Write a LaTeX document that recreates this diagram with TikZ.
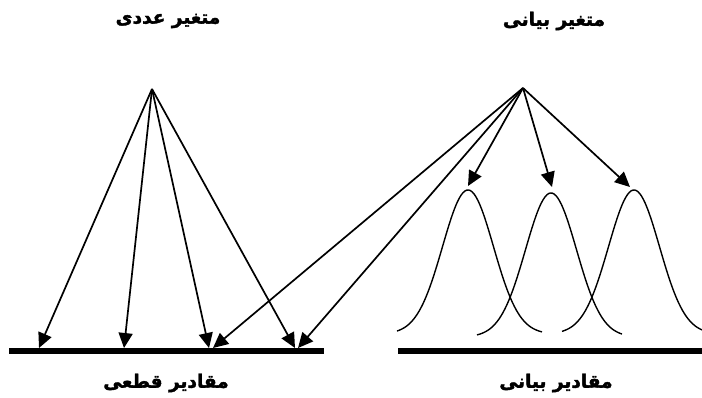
\documentclass[tikz,border=0pt]{standalone}
\usepackage{fontspec}
\newfontfamily\fafont[Script=Arabic, FakeBold=2]{DejaVu Sans Bold}
\TeXXeTstate=1
\usetikzlibrary{arrows.meta}
\begin{document}
\begin{tikzpicture}[x=1pt,y=-1pt,
  lbl/.style={font=\fafont\fontsize{18.5}{20}\selectfont, inner sep=0pt},
  arr/.style={line width=1.7pt,-{Triangle[length=15pt,width=14pt]}},
  bar/.style={line width=6.5pt},
  bell/.style={line width=1.4pt}]
\useasboundingbox (0,0) rectangle (702,397);
% labels
\node[lbl] (numvar) at (168,21) {\beginR متغیر عددی\endR};
\node[lbl] (lingvar) at (554,21) {\beginR متغیر بیانی\endR};
\node[lbl] (crisp) at (166,383) {\beginR مقادیر قطعی\endR};
\node[lbl] (lingval) at (556,383) {\beginR مقادیر بیانی\endR};
% bars
\coordinate (b1s) at (9,351);
\coordinate (b1e) at (324,351);
\coordinate (b2s) at (398,351);
\coordinate (b2e) at (702,351);
\draw[bar] (b1s) -- (b1e);
\draw[bar] (b2s) -- (b2e);
% apexes
\coordinate (A) at (152,89);
\coordinate (B) at (523,88);
% targets
\coordinate (t1) at (39,348);
\coordinate (t2) at (124,348);
\coordinate (t3) at (209,348);
\coordinate (t4) at (295,348);
\coordinate (u1) at (213,348);
\coordinate (u2) at (298,348);
\coordinate (p1) at (468,186);
\coordinate (p2) at (552,187);
\coordinate (p3) at (630,187);
\foreach \t in {t1,t2,t3,t4} \draw[arr] (A) -- (\t);
\foreach \t in {u1,u2,p1,p2,p3} \draw[arr] (B) -- (\t);
% bell curves
\draw[bell] plot[domain=-71:74, samples=80, smooth] ({468+\x}, {334-144*exp(-(\x*\x)/1300)});
\draw[bell] plot[domain=-74:71, samples=80, smooth] ({551+\x}, {337-144*exp(-(\x*\x)/1300)});
\draw[bell] plot[domain=-72:68, samples=80, smooth] ({634+\x}, {334-144*exp(-(\x*\x)/1300)});
\end{tikzpicture}
\end{document}
